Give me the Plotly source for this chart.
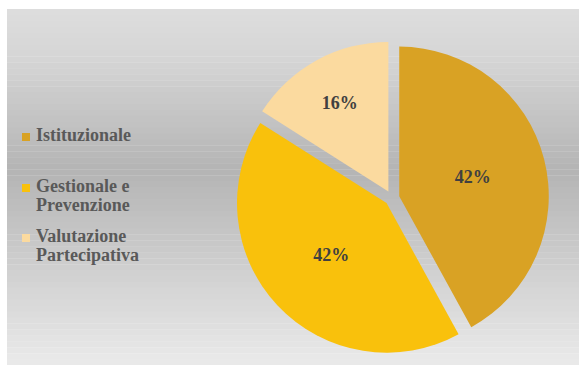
import plotly.graph_objects as go

categories = ["Istituzionale", "Gestionale e Prevenzione", "Valutazione Partecipativa"]
legend_lines = [["Istituzionale"], ["Gestionale e", "Prevenzione"], ["Valutazione", "Partecipativa"]]
values = [42, 42, 16]
colors = ["#D9A224", "#F9C10C", "#FBDA9F"]

W, H = 579, 365
SERIF = "Liberation Serif, DejaVu Serif, serif"

fig = go.Figure()
fig.add_trace(go.Pie(
    labels=categories,
    values=values,
    sort=False,
    direction="clockwise",
    rotation=0,
    pull=[0.05, 0.05, 0.05],
    marker=dict(colors=colors, line=dict(width=0)),
    texttemplate="%{percent:.0%}",
    textposition="inside",
    insidetextorientation="horizontal",
    textfont=dict(family=SERIF, size=18, color="#404040", weight="bold"),
    domain=dict(x=[233 / W, 551 / W], y=[1 - 355 / H, 1 - 41 / H]),
    hoverinfo="label+percent",
    showlegend=False,
))

# background gradient box
x0 = 7 / W
top, bot = 9, 365
stops = [(9, 222), (60, 213), (170, 180), (260, 205), (365, 234)]

def gray(y):
    for (ya, ga), (yb, gb) in zip(stops[:-1], stops[1:]):
        if ya <= y <= yb:
            t = (y - ya) / (yb - ya)
            return ga + (gb - ga) * t
    return stops[-1][1]

shapes = []
n = 60
for i in range(n):
    ya = top + (bot - top) * i / n
    yb = top + (bot - top) * (i + 1) / n
    g = int(round(gray((ya + yb) / 2)))
    shapes.append(dict(type="rect", xref="paper", yref="paper", layer="below",
                       x0=x0, x1=1, y0=1 - yb / H - 0.001, y1=1 - ya / H,
                       line=dict(width=0), fillcolor=f"rgb({g},{g},{g})"))

# legend (manual, to match the original compact spacing)
annotations = []
first_baselines = [141, 192, 242]
line_gap = 19
for lines, color, b0 in zip(legend_lines, colors, first_baselines):
    shapes.append(dict(type="rect", xref="paper", yref="paper", layer="above",
                       x0=22 / W, x1=30 / W, y0=1 - b0 / H, y1=1 - (b0 - 8) / H,
                       line=dict(width=0), fillcolor=color))
    for k, txt in enumerate(lines):
        b = b0 + k * line_gap
        annotations.append(dict(
            text=txt, xref="paper", yref="paper", x=34 / W, y=1 - (b - 6) / H,
            xanchor="left", yanchor="middle", showarrow=False,
            font=dict(family=SERIF, size=18, color="#595959", weight="bold"),
        ))

fig.update_layout(
    width=W, height=H,
    margin=dict(l=0, r=0, t=0, b=0),
    paper_bgcolor="white",
    plot_bgcolor="white",
    shapes=shapes,
    annotations=annotations,
    showlegend=False,
)

fig.write_html("out.html")
